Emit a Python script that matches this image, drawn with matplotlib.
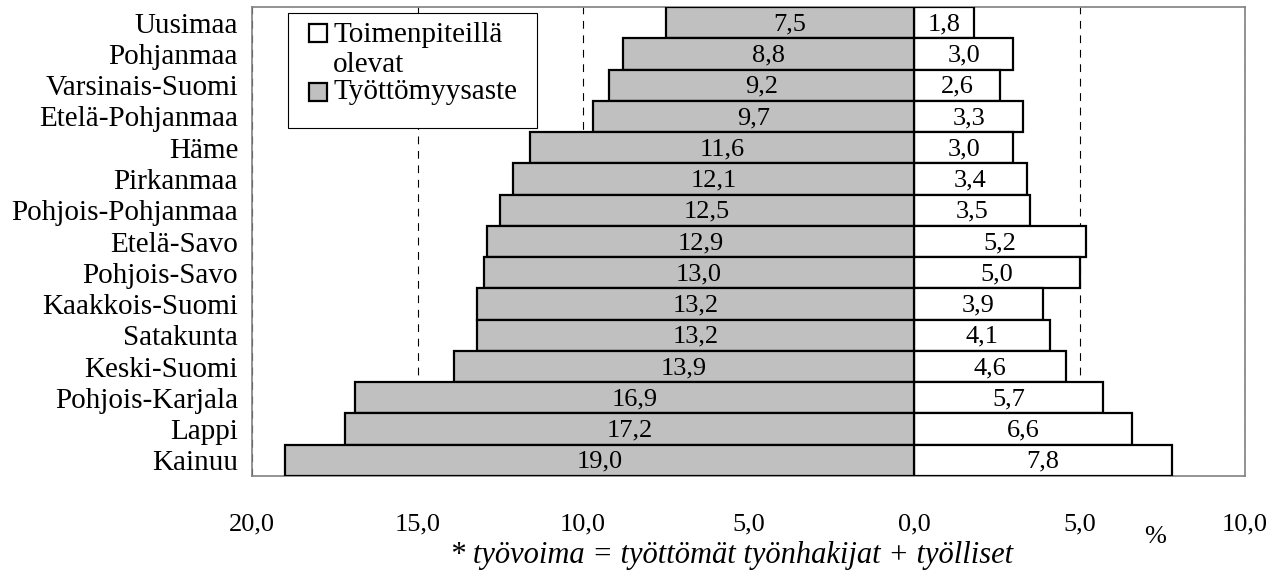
import matplotlib.pyplot as plt
from matplotlib.patches import Rectangle
import numpy as np

plt.rcParams['font.family'] = ['Liberation Serif', 'DejaVu Serif']

regions = ['Uusimaa', 'Pohjanmaa', 'Varsinais-Suomi', 'Etelä-Pohjanmaa', 'Häme',
           'Pirkanmaa', 'Pohjois-Pohjanmaa', 'Etelä-Savo', 'Pohjois-Savo',
           'Kaakkois-Suomi', 'Satakunta', 'Keski-Suomi', 'Pohjois-Karjala',
           'Lappi', 'Kainuu']
tyottomyys = [7.5, 8.8, 9.2, 9.7, 11.6, 12.1, 12.5, 12.9, 13.0, 13.2, 13.2, 13.9,
              16.9, 17.2, 19.0]
toimenpiteilla = [1.8, 3.0, 2.6, 3.3, 3.0, 3.4, 3.5, 5.2, 5.0, 3.9, 4.1, 4.6,
                  5.7, 6.6, 7.8]
xticks = [-20, -15, -10, -5, 0, 5, 10]
xticklabels = ['20,0', '15,0', '10,0', '5,0', '0,0', '5,0', '10,0']
legend_labels = ['Toimenpiteillä\nolevat', 'Työttömyysaste']
legend_colors = ['white', '#c0c0c0']

W, H = 1284, 577


def fmt(v):
    return f'{v:.1f}'.replace('.', ',')


def fx(px):
    return px / W


def fy(py):
    return 1 - py / H


fig = plt.figure(figsize=(12.84, 5.77), dpi=100)
ax = fig.add_axes([fx(252), fy(476), (1245 - 252) / W, (476 - 7) / H])

y = np.arange(len(regions))
neg = [-v for v in tyottomyys]
ax.barh(y, toimenpiteilla, height=1.0, color=legend_colors[0], edgecolor='black',
        linewidth=1.6, zorder=3)
ax.barh(y, neg, height=1.0, color=legend_colors[1], edgecolor='black',
        linewidth=1.6, zorder=3)

for i in range(len(regions)):
    ax.text(neg[i] / 2, y[i] + 0.05, fmt(tyottomyys[i]), ha='center', va='center',
            fontsize=19, zorder=4)
    ax.text(toimenpiteilla[i] / 2, y[i] + 0.05, fmt(toimenpiteilla[i]), ha='center',
            va='center', fontsize=19, zorder=4)

ax.set_xlim(-20, 10)
ax.set_ylim(len(regions) - 0.5, -0.5)
ax.set_yticks(y)
ax.set_yticklabels(regions, fontsize=21)
ax.set_xticks(xticks)
ax.set_xticklabels(xticklabels, fontsize=19)
ax.tick_params(length=0)
ax.tick_params(axis='x', pad=27)
ax.tick_params(axis='y', pad=10)

for x in xticks:
    ax.axvline(x, color='black', linestyle=(0, (7, 6)), linewidth=0.8, zorder=1)

for s in ax.spines.values():
    s.set_color('#808080')
    s.set_linewidth(1.2)

# legend box drawn by hand to get the tight Excel-like layout
fig.patches.append(Rectangle((fx(288), fy(128)), (537 - 288) / W, (128 - 13) / H,
                             transform=fig.transFigure, facecolor='white',
                             edgecolor='black', linewidth=0.8, zorder=5))
sq = 18
for cy, col in zip([33, 92], legend_colors):
    fig.patches.append(Rectangle((fx(309), fy(cy + sq / 2)), sq / W, sq / H,
                                 transform=fig.transFigure, facecolor=col,
                                 edgecolor='black', linewidth=1.6, zorder=6))
fig.text(fx(333), fy(50), legend_labels[0], ha='left', va='center', fontsize=21,
         linespacing=1.2, zorder=7)
fig.text(fx(333), fy(92), legend_labels[1], ha='left', va='center', fontsize=21,
         zorder=7)

fig.text(fx(1155), fy(537), '%', ha='center', va='center', fontsize=19)
fig.text(fx(732), fy(555), '* työvoima = työttömät työnhakijat + työlliset',
         ha='center', va='center', fontsize=22, style='italic')

fig.savefig('out.png', dpi=100)
